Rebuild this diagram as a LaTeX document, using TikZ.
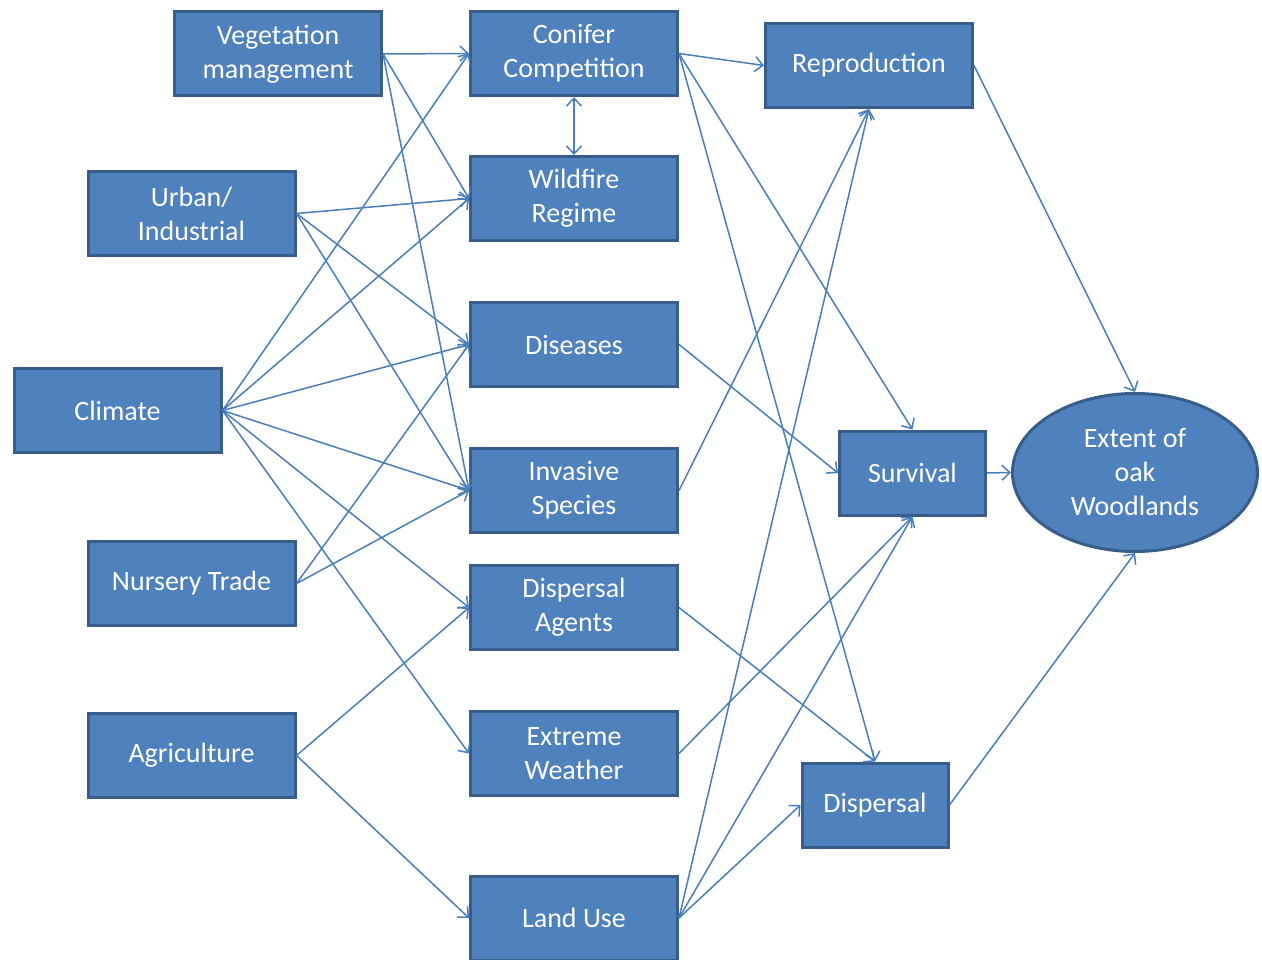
\documentclass[tikz,border=0pt]{standalone}
\usepackage{fontspec}
\setmainfont{Carlito}
\usetikzlibrary{arrows.meta,shapes.geometric}
\definecolor{boxfill}{HTML}{4F81BD}
\definecolor{boxline}{HTML}{385D8A}
\definecolor{linkc}{HTML}{4A7EBB}
\tikzset{
  box/.style={rectangle, draw=boxline, fill=boxfill, line width=3pt, minimum width=207pt, minimum height=84pt,
    text=white, align=center, inner sep=0pt, font=\fontsize{28}{34}\selectfont},
  sbox/.style={box, minimum width=146pt},
  oval/.style={ellipse, draw=boxline, fill=boxfill, line width=3pt, minimum width=245pt, minimum height=158pt,
    text=white, align=center, inner sep=0pt, font=\fontsize{28}{34}\selectfont},
  link/.style={draw=linkc, line width=1.5pt, -{Straight Barb[length=8pt,width=15pt]}},
  dlink/.style={draw=linkc, line width=1.5pt, {Straight Barb[length=8pt,width=15pt]}-{Straight Barb[length=8pt,width=15pt]}}
}
\begin{document}
\begin{tikzpicture}[x=1pt,y=-1pt]
\useasboundingbox (0,0) rectangle (1262,960);
\fill[white] (0,0) rectangle (1262,960);
% left column
\node[box] (veg) at (278,54) {Vegetation\\management};
\node[box] (urb) at (191.5,213.5) {Urban/\\Industrial};
\node[box] (cli) at (117.5,410.5) {Climate};
\node[box] (nur) at (191.5,583.5) {Nursery Trade};
\node[box] (agr) at (191.5,755.5) {Agriculture};
% middle column
\node[box] (con) at (574,53.5) {Conifer\\Competition};
\node[box] (wil) at (574,198.5) {Wildfire\\Regime};
\node[box] (dis) at (574,344.5) {Diseases};
\node[box] (inv) at (574,490.5) {Invasive\\Species};
\node[box] (dag) at (574,607.5) {Dispersal\\Agents};
\node[box] (ext) at (574,753.5) {Extreme\\Weather};
\node[box] (lan) at (574,918) {Land Use};
% right columns
\node[box] (rep) at (869,65.5) {Reproduction};
\node[sbox] (sur) at (912.5,473) {Survival};
\node[sbox] (dsp) at (875,805) {Dispersal};
\node[oval] (oak) at (1135,472.5) {Extent of\\oak\\Woodlands};
% connectors
\draw[link] (veg.east) -- (con.west);
\draw[link] (veg.east) -- (wil.west);
\draw[link] (veg.east) -- (inv.west);
\draw[link] (urb.east) -- (wil.west);
\draw[link] (urb.east) -- (dis.west);
\draw[link] (urb.east) -- (inv.west);
\draw[link] (cli.east) -- (con.west);
\draw[link] (cli.east) -- (wil.west);
\draw[link] (cli.east) -- (dis.west);
\draw[link] (cli.east) -- (inv.west);
\draw[link] (cli.east) -- (dag.west);
\draw[link] (cli.east) -- (ext.west);
\draw[link] (nur.east) -- (dis.west);
\draw[link] (nur.east) -- (inv.west);
\draw[link] (agr.east) -- (dag.west);
\draw[link] (agr.east) -- (lan.west);
\draw[dlink] (con.south) -- (wil.north);
\draw[link] (con.east) -- (rep.west);
\draw[link] (con.east) -- (sur.north);
\draw[link] (con.east) -- (dsp.north);
\draw[link] (dis.east) -- (sur.west);
\draw[link] (inv.east) -- (rep.south);
\draw[link] (dag.east) -- (dsp.north);
\draw[link] (ext.east) -- (sur.south);
\draw[link] (lan.east) -- (rep.south);
\draw[link] (lan.east) -- (sur.south);
\draw[link] (lan.east) -- (dsp.west);
\draw[link] (rep.east) -- (oak.north);
\draw[link] (sur.east) -- (oak.west);
\draw[link] (dsp.east) -- (oak.south);
\end{tikzpicture}
\end{document}
